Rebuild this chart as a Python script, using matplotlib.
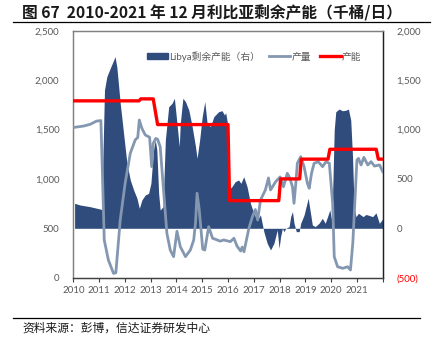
import matplotlib
matplotlib.use("Agg")
import matplotlib.pyplot as plt
from matplotlib.lines import Line2D
from matplotlib.patches import Patch
import numpy as np

plt.rcParams['font.family'] = ['Lato', 'Noto Sans CJK SC', 'DejaVu Sans']

# ---------------- data ----------------
years = list(range(2010, 2023))
year_labels = [str(y) for y in range(2010, 2022)] + [""]

# production (left axis, kb/d)
prod_t = [2010.05, 2010.4, 2010.65, 2010.9, 2011.07, 2011.13, 2011.2, 2011.36, 2011.56, 2011.65,
          2011.82, 2012.01, 2012.21, 2012.4, 2012.5, 2012.56, 2012.66, 2012.79, 2012.96, 2013.04,
          2013.1, 2013.2, 2013.27, 2013.37, 2013.5, 2013.63, 2013.76, 2013.89, 2014.02, 2014.15,
          2014.35, 2014.54, 2014.67, 2014.74, 2014.8, 2014.88, 2015.02, 2015.1, 2015.25, 2015.4,
          2015.7, 2015.83, 2016.09, 2016.23, 2016.35, 2016.49, 2016.55, 2016.62, 2016.81, 2016.95,
          2017.06, 2017.15, 2017.26, 2017.45, 2017.57, 2017.65, 2017.85, 2018.02, 2018.15, 2018.3,
          2018.4, 2018.5, 2018.56, 2018.63, 2018.69, 2018.82, 2018.95, 2019.08, 2019.15, 2019.24,
          2019.34, 2019.5, 2019.67, 2019.8, 2019.93, 2020.06, 2020.12, 2020.25, 2020.45, 2020.64,
          2020.75, 2020.84, 2020.93, 2021.0, 2021.06, 2021.16, 2021.27, 2021.42, 2021.55, 2021.68,
          2021.88, 2022.0]
prod_v = [1522, 1535, 1552, 1585, 1590, 1057, 382, 179, 44, 50,
          584, 955, 1259, 1394, 1420, 1596, 1512, 1445, 1421, 1124,
          1360, 1410, 1401, 1326, 888, 449, 280, 213, 470, 314,
          213, 280, 381, 553, 855, 700, 290, 280, 517, 400,
          370, 382, 365, 399, 320, 270, 310, 263, 500, 620,
          690, 584, 786, 888, 1010, 888, 972, 1020, 921, 1057,
          1006, 921, 753, 955, 1158, 1225, 1124, 955, 905, 1057,
          1158, 1174, 1124, 1174, 1158, 753, 213, 111, 95, 111,
          78, 348, 820, 1191, 1208, 1141, 1218, 1141, 1174, 1130,
          1141, 1073]

# capacity (left axis, kb/d)
cap_t = [2010.0, 2012.55, 2012.62, 2013.1, 2013.27, 2016.0, 2016.06, 2017.97, 2018.04,
         2018.78, 2018.84, 2019.88, 2019.95, 2021.75, 2021.83, 2022.0]
cap_v = [1790, 1790, 1810, 1810, 1550, 1550, 780, 780, 1000,
         1000, 1200, 1200, 1300, 1300, 1200, 1200]

# spare capacity (right axis, kb/d)
spare_t = [2010.05, 2010.26, 2010.65, 2011.04, 2011.1, 2011.21, 2011.3, 2011.43, 2011.62, 2011.69,
           2011.82, 2011.95, 2012.08, 2012.21, 2012.34, 2012.47, 2012.56, 2012.66, 2012.79, 2012.92,
           2013.01, 2013.11, 2013.18, 2013.24, 2013.31, 2013.37, 2013.48, 2013.57, 2013.7, 2013.83,
           2013.92, 2014.02, 2014.11, 2014.15, 2014.25, 2014.35, 2014.48, 2014.61, 2014.74, 2014.8,
           2014.9, 2015.0, 2015.1, 2015.19, 2015.32, 2015.45, 2015.64, 2015.77, 2015.86, 2015.91,
           2015.98, 2016.02, 2016.15, 2016.28, 2016.41, 2016.5, 2016.61, 2016.74, 2016.87, 2017.0,
           2017.13, 2017.26, 2017.39, 2017.52, 2017.65, 2017.78, 2017.91, 2017.98, 2018.04, 2018.11,
           2018.17, 2018.24, 2018.37, 2018.43, 2018.5, 2018.56, 2018.65, 2018.76, 2018.82, 2018.95,
           2019.11, 2019.18, 2019.27, 2019.38, 2019.53, 2019.66, 2019.77, 2019.86, 2019.95, 2020.03,
           2020.12, 2020.18, 2020.31, 2020.44, 2020.57, 2020.67, 2020.76, 2020.83, 2020.89, 2020.96,
           2021.06, 2021.15, 2021.24, 2021.35, 2021.48, 2021.61, 2021.74, 2021.87, 2021.97, 2022.0]
spare_v = [253, 236, 219, 195, 190, 1400, 1534, 1619, 1737, 1630,
           1265, 961, 658, 489, 388, 304, 202, 287, 337, 354,
           455, 793, 894, 793, 354, 185, 219, 894, 1231, 1265,
           1316, 1063, 826, 1063, 1316, 1282, 1197, 1029, 826, 708,
           894, 1130, 1282, 1063, 1029, 1130, 1181, 1190, 1147, 1170,
           1063, 388, 421, 472, 489, 455, 522, 421, 253, 152,
           84, 135, -34, -152, -219, -152, -17, -203, -84, 0,
           -34, 0, 17, 118, 169, 51, -34, -34, 51, 135,
           304, 186, 34, 17, 51, 101, 51, 118, 186, 68,
           995, 1180, 1207, 1190, 1195, 1207, 1096, 725, 219, 118,
           152, 135, 118, 140, 130, 118, 156, 51, 84, 100]

left_ticks = [0, 500, 1000, 1500, 2000, 2500]
left_labels = ["0", "500", "1,000", "1,500", "2,000", "2,500"]
right_ticks = [-500, 0, 500, 1000, 1500, 2000]
right_labels = ["(500)", "0", "500", "1,000", "1,500", "2,000"]

# ---------------- figure ----------------
W, H = 443, 344
fig = plt.figure(figsize=(W / 100, H / 100), dpi=100)
ax = fig.add_axes([73.3 / W, 1 - 277.7 / H, (382.7 - 73.3) / W, (277.7 - 30.7) / H])
ax2 = ax.twinx()

navy = "#2F4C7D"
prod_c = "#8497B0"
red = "#FF0000"
tick_c = "#595959"

ax2.fill_between(spare_t, 0, spare_v, color=navy, linewidth=0, zorder=1)
ax2.set_ylim(-500, 2000)
ax.set_zorder(ax2.get_zorder() + 1)
ax.patch.set_visible(False)

ax.plot(prod_t, prod_v, color=prod_c, lw=2.0, zorder=3, solid_joinstyle='round')
ax.plot(cap_t, cap_v, color=red, lw=2.4, zorder=4)

ax.set_xlim(2010, 2022)
ax.set_ylim(0, 2500)
ax.set_xticks(years)
ax.set_xticklabels(year_labels)
ax.set_yticks(left_ticks)
ax.set_yticklabels(left_labels)
ax2.set_yticks(right_ticks)
ax2.set_yticklabels(right_labels)
for lab in ax2.get_yticklabels():
    if lab.get_text() == "(500)":
        lab.set_color(red)
    else:
        lab.set_color(tick_c)

ax.tick_params(axis='x', length=3, width=0.8, color="#404040", labelsize=7, labelcolor=tick_c, pad=3)
ax.tick_params(axis='y', length=0, labelsize=7, labelcolor=tick_c, pad=10)
ax2.tick_params(axis='y', length=0, labelsize=7, pad=10)

for a in (ax, ax2):
    a.spines['left'].set_color("#808080")
    a.spines['top'].set_color("#808080")
    a.spines['right'].set_color("#202020")
    a.spines['bottom'].set_color("#404040")
    for s in a.spines.values():
        s.set_linewidth(0.9)

handles = [Patch(facecolor=navy, edgecolor=navy),
           Line2D([0], [0], color=prod_c, lw=2),
           Line2D([0], [0], color=red, lw=2.4)]
labels = ["Libya剩余产能（右）", "产量", "产能"]
leg = ax.legend(handles, labels, loc='center', bbox_to_anchor=(0.585, 0.896), ncol=3,
                frameon=False, handlelength=2.2, handletextpad=0.1,
                columnspacing=0.9, handleheight=0.6,
                prop={'family': ['Lato', 'Noto Sans CJK SC'], 'size': 7})
for t in leg.get_texts():
    t.set_color(tick_c)

# title & rules
fig.text(22 / W, 1 - 13 / H, "图 67  2010-2021 年 12 月利比亚剩余产能（千桶/日）",
         fontsize=11.3, fontweight='bold', color="#1a1a1a", va='center', ha='left',
         family=['Noto Sans CJK SC', 'DejaVu Sans'])
fig.add_artist(Line2D([13 / W, 430 / W], [1 - 21.5 / H, 1 - 21.5 / H], color='black', lw=0.9))
fig.add_artist(Line2D([13 / W, 420 / W], [1 - 318 / H, 1 - 318 / H], color='black', lw=0.9))
fig.text(22 / W, 1 - 328 / H, "资料来源：彭博，信达证券研发中心", fontsize=8.5, style='italic',
         color="#1a1a1a", va='center', ha='left', family=['Noto Sans CJK SC', 'DejaVu Sans'])

fig.savefig("out.png", dpi=100)
